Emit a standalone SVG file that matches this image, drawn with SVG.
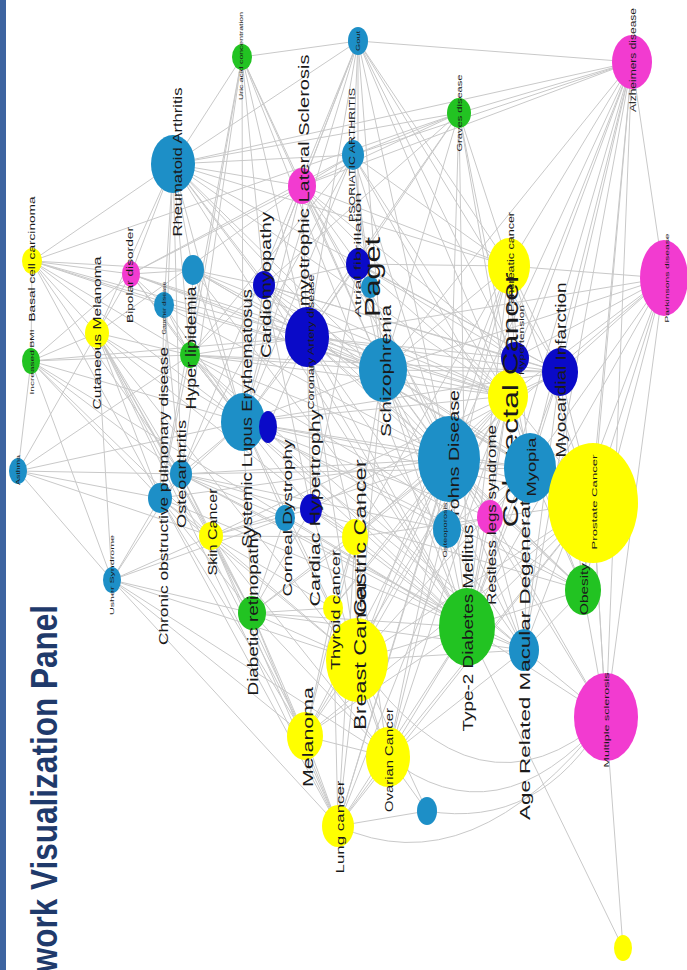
<svg xmlns="http://www.w3.org/2000/svg" width="687" height="970" viewBox="0 0 687 970">
<style>
.e{fill:none;stroke:#c9c9c9;stroke-width:1}
.l{font-family:"Liberation Sans",Arial,sans-serif;fill:#1a1a1a;text-anchor:middle;dominant-baseline:central}
.b{fill:#1d8fc7}.d{fill:#0a0ac8}.g{fill:#22c322}.y{fill:#ffff00}.m{fill:#f23bd0}
</style>
<rect width="687" height="970" fill="#ffffff"/>
<rect x="0" y="0" width="6" height="970" fill="#3d64a0"/>
<text x="57" y="1023" transform="rotate(-90 57 1023)" font-family="Liberation Sans, Arial, sans-serif" font-weight="bold" font-size="36" fill="#1f3a6b" textLength="418" lengthAdjust="spacingAndGlyphs">Network Visualization Panel</text>
<g id="connectors" class="e">
<path d="M632 62L459 113M632 62L509 266M632 62L560 372M632 62L508 396M632 62L593 503M632 62L583 590M632 62L606 717M632 62L664 278M632 62L383 370M632 62L449 459M632 62L530 468M632 62L524 650M632 62L467 627M632 62L515 358M632 62L353 155M632 62L302 186M632 62L173 164M632 62L358 41"/>
<path d="M664 278L606 717M664 278L593 503M664 278L583 590M664 278L560 372M664 278L508 396M664 278L509 266M664 278L383 370M664 278L449 459M664 278L530 468M664 278L524 650M664 278L467 627M664 278L307 337M664 278L515 358"/>
<path d="M358 41L242 57M358 41L353 155M358 41L302 186M358 41L173 164M358 41L383 370M358 41L508 396M358 41L509 266M358 41L449 459M358 41L560 372M358 41L515 358M358 41L307 337M358 41L243 422M358 41L181 474M358 41L264 285M358 41L358 264"/>
<path d="M242 57L173 164M242 57L243 422M242 57L264 285M242 57L307 337M242 57L302 186M242 57L181 474M242 57L160 498M242 57L467 627M242 57L190 355M242 57L383 370"/>
<path d="M459 113L173 164M459 113L353 155M459 113L302 186M459 113L264 285M459 113L307 337M459 113L243 422M459 113L509 266M459 113L508 396M459 113L467 627M459 113L449 459M459 113L32 261M459 113L383 370M459 113L530 468"/>
<path d="M353 155L173 164M353 155L302 186M353 155L243 422M353 155L449 459M353 155L181 474M353 155L190 355M353 155L508 396M353 155L530 468M353 155L368 280M353 155L383 370M353 155L509 266M353 155L131 274"/>
<path d="M302 186L173 164M302 186L383 370M302 186L307 337M302 186L264 285M302 186L358 264M302 186L508 396M302 186L131 274M302 186L97 333M302 186L606 717M302 186L515 358M302 186L509 266M302 186L243 422M302 186L449 459"/>
<path d="M173 164L32 261M173 164L131 274M173 164L97 333M173 164L193 270M173 164L243 422M173 164L181 474M173 164L160 498M173 164L190 355M173 164L307 337M173 164L383 370M173 164L449 459M173 164L467 627M173 164L508 396M173 164L509 266M173 164L560 372M173 164L164 305M173 164L264 285"/>
<path d="M32 261L31 361M32 261L131 274M32 261L97 333M32 261L193 270M32 261L164 305M32 261L190 355M32 261L243 422M32 261L181 474M32 261L160 498M32 261L307 337M32 261L383 370"/>
<path d="M31 361L18 471M31 361L97 333M31 361L131 274M31 361L190 355M31 361L243 422M31 361L160 498M31 361L181 474M31 361L467 627M31 361L211 536M31 361L307 337M31 361L112 580"/>
<path d="M131 274L97 333M131 274L383 370M131 274L164 305M131 274L190 355M131 274L243 422M131 274L307 337M131 274L193 270M131 274L508 396"/>
<path d="M97 333L18 471M97 333L112 580M97 333L211 536M97 333L305 736M97 333L181 474M97 333L160 498M97 333L243 422M97 333L190 355M97 333L357 660M97 333L355 537M97 333L338 826M97 333L252 613"/>
<path d="M193 270L243 422M193 270L264 285M193 270L190 355M193 270L307 337M193 270L383 370M193 270L508 396M193 270L530 468M193 270L467 627"/>
<path d="M164 305L190 355M164 305L243 422M164 305L181 474M164 305L160 498M164 305L449 459M164 305L383 370"/>
<path d="M190 355L243 422M190 355L307 337M190 355L264 285M190 355L560 372M190 355L467 627M190 355L583 590M190 355L383 370M190 355L311 509M190 355L449 459M190 355L524 650M190 355L160 498M190 355L508 396"/>
<path d="M18 471L160 498M18 471L112 580M18 471L181 474M18 471L211 536M18 471L190 355M18 471L243 422"/>
<path d="M160 498L112 580M160 498L181 474M160 498L211 536M160 498L243 422M160 498L252 613M160 498L338 826M160 498L357 660M160 498L467 627M160 498L449 459M160 498L305 736"/>
<path d="M181 474L243 422M181 474L211 536M181 474L252 613M181 474L285 518M181 474L449 459M181 474L467 627M181 474L583 590M181 474L447 529M181 474L530 468M181 474L524 650"/>
<path d="M112 580L211 536M112 580L252 613M112 580L305 736M112 580L338 826M112 580L181 474M112 580L285 518M112 580L357 660M112 580L388 757"/>
<path d="M211 536L252 613M211 536L305 736M211 536L338 826M211 536L357 660M211 536L355 537M211 536L508 396M211 536L333 608M211 536L388 757M211 536L311 509M211 536L449 459"/>
<path d="M243 422L264 285M243 422L307 337M243 422L383 370M243 422L449 459M243 422L508 396M243 422L467 627M243 422L530 468M243 422L524 650M243 422L583 590M243 422L252 613M243 422L285 518M243 422L490 517M243 422L560 372M243 422L268 427M243 422L357 660M243 422L447 529M243 422L593 503"/>
<path d="M264 285L307 337M264 285L560 372M264 285L358 264M264 285L383 370M264 285L515 358M264 285L311 509M264 285L467 627M264 285L583 590M264 285L508 396"/>
<path d="M307 337L560 372M307 337L358 264M307 337L515 358M307 337L383 370M307 337L508 396M307 337L449 459M307 337L467 627M307 337L583 590M307 337L311 509M307 337L268 427M307 337L357 660M307 337L524 650M307 337L530 468M307 337L593 503M307 337L355 537"/>
<path d="M358 264L560 372M358 264L515 358M358 264L368 280M358 264L383 370M358 264L311 509M358 264L508 396M358 264L449 459M358 264L509 266"/>
<path d="M383 370L449 459M383 370L508 396M383 370L530 468M383 370L490 517M383 370L467 627M383 370L357 660M383 370L447 529M383 370L560 372M383 370L509 266M383 370L593 503M383 370L355 537M383 370L524 650"/>
<path d="M449 459L508 396M449 459L530 468M449 459L490 517M449 459L447 529M449 459L467 627M449 459L524 650M449 459L357 660M449 459L355 537M449 459L388 757M449 459L338 826M449 459L305 736M449 459L593 503M449 459L606 717M449 459L583 590M449 459L333 608M449 459L252 613"/>
<path d="M508 396L530 468M508 396L593 503M508 396L509 266M508 396L515 358M508 396L560 372M508 396L357 660M508 396L355 537M508 396L388 757M508 396L338 826M508 396L333 608M508 396L305 736M508 396L467 627M508 396L583 590M508 396L490 517"/>
<path d="M509 266L560 372M509 266L593 503M509 266L515 358M509 266L530 468M509 266L357 660M509 266L355 537M509 266L338 826M509 266L388 757M509 266L467 627"/>
<path d="M560 372L515 358M560 372L593 503M560 372L583 590M560 372L467 627M560 372L530 468M560 372L524 650M560 372L311 509"/>
<path d="M530 468L593 503M530 468L524 650M530 468L467 627M530 468L583 590M530 468L490 517M530 468L357 660"/>
<path d="M593 503L583 590M593 503L357 660M593 503L388 757M593 503L338 826M593 503L355 537M593 503L467 627M593 503L305 736M593 503L606 717"/>
<path d="M467 627L583 590M467 627L524 650M467 627L357 660M467 627L388 757M467 627L338 826M467 627L305 736M467 627L490 517M467 627L447 529M467 627L252 613M467 627L355 537M467 627L623 948M467 627L606 717M467 627L311 509M467 627L285 518"/>
<path d="M524 650L583 590M524 650L252 613M524 650L357 660M524 650L388 757M524 650L606 717M524 650L490 517"/>
<path d="M606 717L583 590M606 717L593 503M606 717L623 948"/>
<path d="M338 826Q472 888 606 717M388 757Q497 843 606 717M357 660Q478 831 606 717M427 811Q540 830 606 717"/>
<path d="M357 660L333 608M357 660L355 537M357 660L305 736M357 660L388 757M357 660L338 826M357 660L252 613M357 660L427 811M357 660L285 518M357 660L311 509"/>
<path d="M355 537L333 608M355 537L305 736M355 537L388 757M355 537L338 826M355 537L252 613M355 537L311 509"/>
<path d="M305 736L338 826M305 736L388 757M305 736L252 613M305 736L333 608M388 757L338 826M388 757L427 811M388 757L252 613M388 757L333 608M338 826L427 811M338 826L252 613M338 826L333 608M252 613L285 518M252 613L311 509M252 613L333 608M447 529L490 517M447 529L530 468"/>
</g>
<g id="n-alzheimers"><ellipse class="m" cx="632" cy="62" rx="20" ry="27"/><text class="l" x="633" y="60" font-size="9" textLength="104" lengthAdjust="spacingAndGlyphs" transform="rotate(-90 633 60)">Alzheimers disease</text></g>
<g id="n-parkinsons"><ellipse class="m" cx="664" cy="278" rx="24" ry="38"/><text class="l" x="667" y="278" font-size="6" textLength="89" lengthAdjust="spacingAndGlyphs" transform="rotate(-90 667 278)">Parkinsons disease</text></g>
<g id="n-graves"><ellipse class="g" cx="459" cy="113" rx="12" ry="15"/><text class="l" x="459" y="113" font-size="7" textLength="77" lengthAdjust="spacingAndGlyphs" transform="rotate(-90 459 113)">Graves disease</text></g>
<g id="n-gout"><ellipse class="b" cx="358" cy="41" rx="10" ry="14"/><text class="l" x="358" y="41" font-size="6" textLength="20" lengthAdjust="spacingAndGlyphs" transform="rotate(-90 358 41)">Gout</text></g>
<g id="n-uric"><ellipse class="g" cx="242" cy="57" rx="10" ry="13"/><text class="l" x="241" y="56" font-size="6" textLength="88" lengthAdjust="spacingAndGlyphs" transform="rotate(-90 241 56)">Uric acid concentration</text></g>
<g id="n-psoriatic"><ellipse class="b" cx="353" cy="155" rx="11" ry="15"/><text class="l" x="352" y="155" font-size="9" textLength="134" lengthAdjust="spacingAndGlyphs" transform="rotate(-90 352 155)">PSORIATIC ARTHRITIS</text></g>
<g id="n-rheumatoid"><ellipse class="b" cx="173" cy="164" rx="22" ry="29"/><text class="l" x="177" y="162" font-size="13" textLength="149" lengthAdjust="spacingAndGlyphs" transform="rotate(-90 177 162)">Rheumatoid Arthritis</text></g>
<g id="n-als"><ellipse class="m" cx="302" cy="186" rx="14" ry="18"/><text class="l" x="303" y="187" font-size="15" textLength="265" lengthAdjust="spacingAndGlyphs" transform="rotate(-90 303 187)">Amyotrophic Lateral Sclerosis</text></g>
<g id="n-basal"><ellipse class="y" cx="32" cy="261" rx="10" ry="13"/><text class="l" x="32" y="259" font-size="9" textLength="125" lengthAdjust="spacingAndGlyphs" transform="rotate(-90 32 259)">Basal cell carcinoma</text></g>
<g id="n-bmi"><ellipse class="g" cx="31" cy="361" rx="9" ry="13"/><text class="l" x="32" y="362" font-size="6" textLength="65" lengthAdjust="spacingAndGlyphs" transform="rotate(-90 32 362)">Increased BMI</text></g>
<g id="n-bipolar"><ellipse class="m" cx="131" cy="274" rx="9" ry="13"/><text class="l" x="130" y="275" font-size="9" textLength="96" lengthAdjust="spacingAndGlyphs" transform="rotate(-90 130 275)">Bipolar disorder</text></g>
<g id="n-cutaneous"><ellipse class="y" cx="97" cy="333" rx="12" ry="15"/><text class="l" x="97" y="333" font-size="11" textLength="153" lengthAdjust="spacingAndGlyphs" transform="rotate(-90 97 333)">Cutaneous Melanoma</text></g>
<g id="n-u1"><ellipse class="b" cx="193" cy="270" rx="11" ry="15"/></g>
<g id="n-gaucher"><ellipse class="b" cx="164" cy="305" rx="10" ry="13"/><text class="l" x="164" y="308" font-size="5" textLength="53" lengthAdjust="spacingAndGlyphs" transform="rotate(-90 164 308)">Gaucher disease</text></g>
<g id="n-hyperlipidemia"><ellipse class="g" cx="190" cy="355" rx="10" ry="13"/><text class="l" x="191" y="348" font-size="14" textLength="123" lengthAdjust="spacingAndGlyphs" transform="rotate(-90 191 348)">Hyper lipidemia</text></g>
<g id="n-asthma"><ellipse class="b" cx="18" cy="471" rx="9" ry="13"/><text class="l" x="18" y="470" font-size="5" textLength="30" lengthAdjust="spacingAndGlyphs" transform="rotate(-90 18 470)">Asthma</text></g>
<g id="n-copd"><ellipse class="b" cx="160" cy="498" rx="12" ry="15"/><text class="l" x="163" y="496" font-size="13" textLength="298" lengthAdjust="spacingAndGlyphs" transform="rotate(-90 163 496)">Chronic obstructive pulmonary disease</text></g>
<g id="n-osteoarthritis"><ellipse class="b" cx="181" cy="474" rx="11" ry="14"/><text class="l" x="181" y="474" font-size="13" textLength="108" lengthAdjust="spacingAndGlyphs" transform="rotate(-90 181 474)">Osteoarthritis</text></g>
<g id="n-usher"><ellipse class="b" cx="112" cy="580" rx="9" ry="13"/><text class="l" x="112" y="575" font-size="6" textLength="80" lengthAdjust="spacingAndGlyphs" transform="rotate(-90 112 575)">Usher Syndrome</text></g>
<g id="n-skin"><ellipse class="y" cx="211" cy="536" rx="12" ry="14"/><text class="l" x="212" y="532" font-size="13" textLength="87" lengthAdjust="spacingAndGlyphs" transform="rotate(-90 212 532)">Skin Cancer</text></g>
<g id="n-sle"><ellipse class="b" cx="243" cy="422" rx="22" ry="29"/><text class="l" x="246" y="418" font-size="15" textLength="258" lengthAdjust="spacingAndGlyphs" transform="rotate(-90 246 418)">Systemic Lupus Erythematosus</text></g>
<g id="n-d1"><ellipse class="d" cx="268" cy="427" rx="9" ry="16"/></g>
<g id="n-cardiomyopathy"><ellipse class="d" cx="264" cy="285" rx="11" ry="14"/><text class="l" x="266" y="285" font-size="14" textLength="146" lengthAdjust="spacingAndGlyphs" transform="rotate(-90 266 285)">Cardiomyopathy</text></g>
<g id="n-cad"><ellipse class="d" cx="307" cy="337" rx="22" ry="30"/><text class="l" x="311" y="342" font-size="9" textLength="135" lengthAdjust="spacingAndGlyphs" transform="rotate(-90 311 342)">Coronary Artery disease</text></g>
<g id="n-atrial"><ellipse class="d" cx="358" cy="264" rx="12" ry="16"/><text class="l" x="358" y="255" font-size="9" textLength="125" lengthAdjust="spacingAndGlyphs" transform="rotate(-90 358 255)">Atrial fibrillation</text></g>
<g id="n-paget"><ellipse class="b" cx="370" cy="287" rx="9" ry="11"/><text class="l" x="372" y="277" font-size="22" textLength="80" lengthAdjust="spacingAndGlyphs" transform="rotate(-90 372 277)">Paget</text></g>
<g id="n-schizophrenia"><ellipse class="b" cx="383" cy="370" rx="24" ry="32"/><text class="l" x="385" y="371" font-size="15" textLength="132" lengthAdjust="spacingAndGlyphs" transform="rotate(-90 385 371)">Schizophrenia</text></g>
<g id="n-crohns"><ellipse class="b" cx="449" cy="459" rx="31" ry="43"/><text class="l" x="454" y="460" font-size="14" textLength="140" lengthAdjust="spacingAndGlyphs" transform="rotate(-90 454 460)">Crohns Disease</text></g>
<g id="n-osteoporosis"><ellipse class="b" cx="447" cy="529" rx="14" ry="19"/><text class="l" x="445" y="530" font-size="5" textLength="55" lengthAdjust="spacingAndGlyphs" transform="rotate(-90 445 530)">Osteoporosis</text></g>
<g id="n-pancreatic"><ellipse class="y" cx="509" cy="266" rx="21" ry="28"/><text class="l" x="511" y="262" font-size="9" textLength="100" lengthAdjust="spacingAndGlyphs" transform="rotate(-90 511 262)">Pancreatic cancer</text></g>
<g id="n-hypertension"><ellipse class="d" cx="515" cy="358" rx="14" ry="16"/><text class="l" x="521" y="340" font-size="8" textLength="70" lengthAdjust="spacingAndGlyphs" transform="rotate(-90 521 340)">Hypertension</text></g>
<g id="n-colorectal"><ellipse class="y" cx="508" cy="396" rx="20" ry="26"/><text class="l" x="510" y="400" font-size="22" textLength="255" lengthAdjust="spacingAndGlyphs" transform="rotate(-90 510 400)">Colorectal Cancer</text></g>
<g id="n-amd"><ellipse class="b" cx="524" cy="650" rx="15" ry="21"/><text class="l" x="524" y="645" font-size="15" textLength="350" lengthAdjust="spacingAndGlyphs" transform="rotate(-90 524 645)">Age Related Macular Degeneration</text></g>
<g id="n-myopia"><ellipse class="b" cx="530" cy="468" rx="26" ry="35"/><text class="l" x="531" y="467" font-size="13" textLength="59" lengthAdjust="spacingAndGlyphs" transform="rotate(-90 531 467)">Myopia</text></g>
<g id="n-restless"><ellipse class="m" cx="490" cy="517" rx="13" ry="17"/><text class="l" x="491" y="515" font-size="13" textLength="180" lengthAdjust="spacingAndGlyphs" transform="rotate(-90 491 515)">Restless legs syndrome</text></g>
<g id="n-myocardial"><ellipse class="d" cx="560" cy="372" rx="18" ry="24"/><text class="l" x="561" y="370" font-size="14" textLength="175" lengthAdjust="spacingAndGlyphs" transform="rotate(-90 561 370)">Myocardial Infarction</text></g>
<g id="n-prostate"><ellipse class="y" cx="593" cy="503" rx="45" ry="60"/><text class="l" x="594" y="502" font-size="8" textLength="95" lengthAdjust="spacingAndGlyphs" transform="rotate(-90 594 502)">Prostate Cancer</text></g>
<g id="n-obesity"><ellipse class="g" cx="583" cy="590" rx="18" ry="25"/><text class="l" x="584" y="589" font-size="10" textLength="52" lengthAdjust="spacingAndGlyphs" transform="rotate(-90 584 589)">Obesity</text></g>
<g id="n-t2d"><ellipse class="g" cx="467" cy="627" rx="28" ry="39"/><text class="l" x="467" y="628" font-size="15" textLength="207" lengthAdjust="spacingAndGlyphs" transform="rotate(-90 467 628)">Type-2 Diabetes Mellitus</text></g>
<g id="n-ms"><ellipse class="m" cx="606" cy="717" rx="32" ry="44"/><text class="l" x="606" y="720" font-size="7" textLength="95" lengthAdjust="spacingAndGlyphs" transform="rotate(-90 606 720)">Multiple sclerosis</text></g>
<g id="n-y1"><ellipse class="y" cx="623" cy="948" rx="9" ry="13"/></g>
<g id="n-breast"><ellipse class="y" cx="357" cy="660" rx="31" ry="42"/><text class="l" x="360" y="655" font-size="16" textLength="150" lengthAdjust="spacingAndGlyphs" transform="rotate(-90 360 655)">Breast Cancer</text></g>
<g id="n-gastric"><ellipse class="y" cx="355" cy="537" rx="13" ry="18"/><text class="l" x="360" y="538" font-size="16" textLength="157" lengthAdjust="spacingAndGlyphs" transform="rotate(-90 360 538)">Gastric Cancer</text></g>
<g id="n-thyroid"><ellipse class="y" cx="333" cy="608" rx="10" ry="13"/><text class="l" x="336" y="610" font-size="12" textLength="120" lengthAdjust="spacingAndGlyphs" transform="rotate(-90 336 610)">Thyroid cancer</text></g>
<g id="n-cardiac"><ellipse class="d" cx="311" cy="509" rx="11" ry="15"/><text class="l" x="314" y="508" font-size="15" textLength="197" lengthAdjust="spacingAndGlyphs" transform="rotate(-90 314 508)">Cardiac Hypertrophy</text></g>
<g id="n-corneal"><ellipse class="b" cx="285" cy="518" rx="10" ry="13"/><text class="l" x="287" y="518" font-size="13" textLength="157" lengthAdjust="spacingAndGlyphs" transform="rotate(-90 287 518)">Corneal Dystrophy</text></g>
<g id="n-retinopathy"><ellipse class="g" cx="252" cy="613" rx="14" ry="17"/><text class="l" x="253" y="612" font-size="14" textLength="167" lengthAdjust="spacingAndGlyphs" transform="rotate(-90 253 612)">Diabetic retinopathy</text></g>
<g id="n-melanoma"><ellipse class="y" cx="305" cy="736" rx="18" ry="24"/><text class="l" x="307" y="737" font-size="15" textLength="100" lengthAdjust="spacingAndGlyphs" transform="rotate(-90 307 737)">Melanoma</text></g>
<g id="n-ovarian"><ellipse class="y" cx="388" cy="757" rx="22" ry="30"/><text class="l" x="389" y="760" font-size="11" textLength="104" lengthAdjust="spacingAndGlyphs" transform="rotate(-90 389 760)">Ovarian Cancer</text></g>
<g id="n-lung"><ellipse class="y" cx="338" cy="826" rx="16" ry="21"/><text class="l" x="340" y="827" font-size="11" textLength="93" lengthAdjust="spacingAndGlyphs" transform="rotate(-90 340 827)">Lung cancer</text></g>
<g id="n-b2"><ellipse class="b" cx="427" cy="811" rx="10" ry="14"/></g>
</svg>
